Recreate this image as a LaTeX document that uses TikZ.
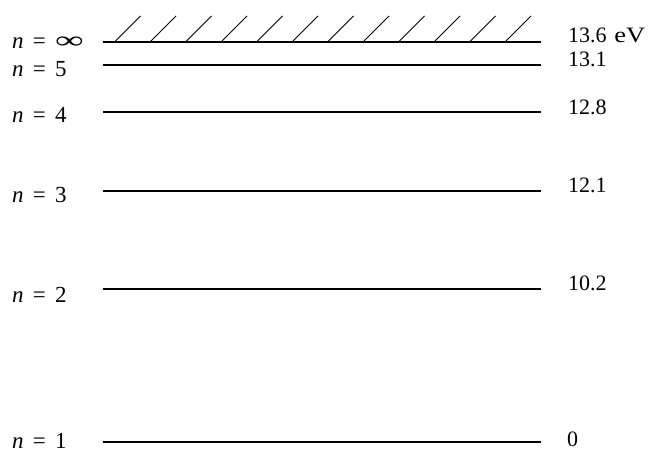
\documentclass[tikz,border=0pt]{standalone}
\usepackage{graphicx}
\usepackage{fontspec}
\setmainfont{Liberation Serif}
\newcommand{\eqsp}{\hspace{0.4em}=\hspace{0.4em}}
\begin{document}
\begin{tikzpicture}[x=1pt,y=-1pt,
  lvl/.style={line width=1.1pt},
  hatch/.style={line width=0.9pt},
  lab/.style={inner sep=0pt,font=\fontsize{22}{26}\selectfont,anchor=base west},
  nlab/.style={inner sep=0pt,font=\fontsize{23}{27}\selectfont,anchor=base west}]
\useasboundingbox (0,0) rectangle (649,452);
% levels
\foreach \nm/\y in {inf/42,five/65,four/112,three/191,two/289,one/442}{
  \coordinate (\nm L) at (103,\y);
  \coordinate (\nm R) at (541,\y);
  \draw[lvl] (\nm L) -- (\nm R);
}
% hatching above n = infinity
\foreach \k in {0,...,11}{
  \coordinate (hb\k) at ({114.5+35.5*\k},42);
  \coordinate (ht\k) at ({140.5+35.5*\k},16);
  \draw[hatch] (hb\k) -- (ht\k);
}
% left labels
\node[nlab] (linf) at (12,49) {\textit{n}\eqsp\scalebox{1.75}[1.05]{∞}};
\node[nlab] (lfive) at (12,77) {\textit{n}\eqsp 5};
\node[nlab] (lfour) at (12,123) {\textit{n}\eqsp 4};
\node[nlab] (lthree) at (12,203) {\textit{n}\eqsp 3};
\node[nlab] (ltwo) at (12,302) {\textit{n}\eqsp 2};
\node[nlab] (lone) at (12,448.5) {\textit{n}\eqsp 1};
% right labels
\node[lab] (rinf) at (568,43) {13.6\hspace{0.35em}\scalebox{1.2}[1]{eV}};
\node[lab] (rfive) at (568,67) {13.1};
\node[lab] (rfour) at (568,114) {12.8};
\node[lab] (rthree) at (568,193) {12.1};
\node[lab] (rtwo) at (568,290) {10.2};
\node[lab] (rone) at (567,446) {0};
\end{tikzpicture}
\end{document}
